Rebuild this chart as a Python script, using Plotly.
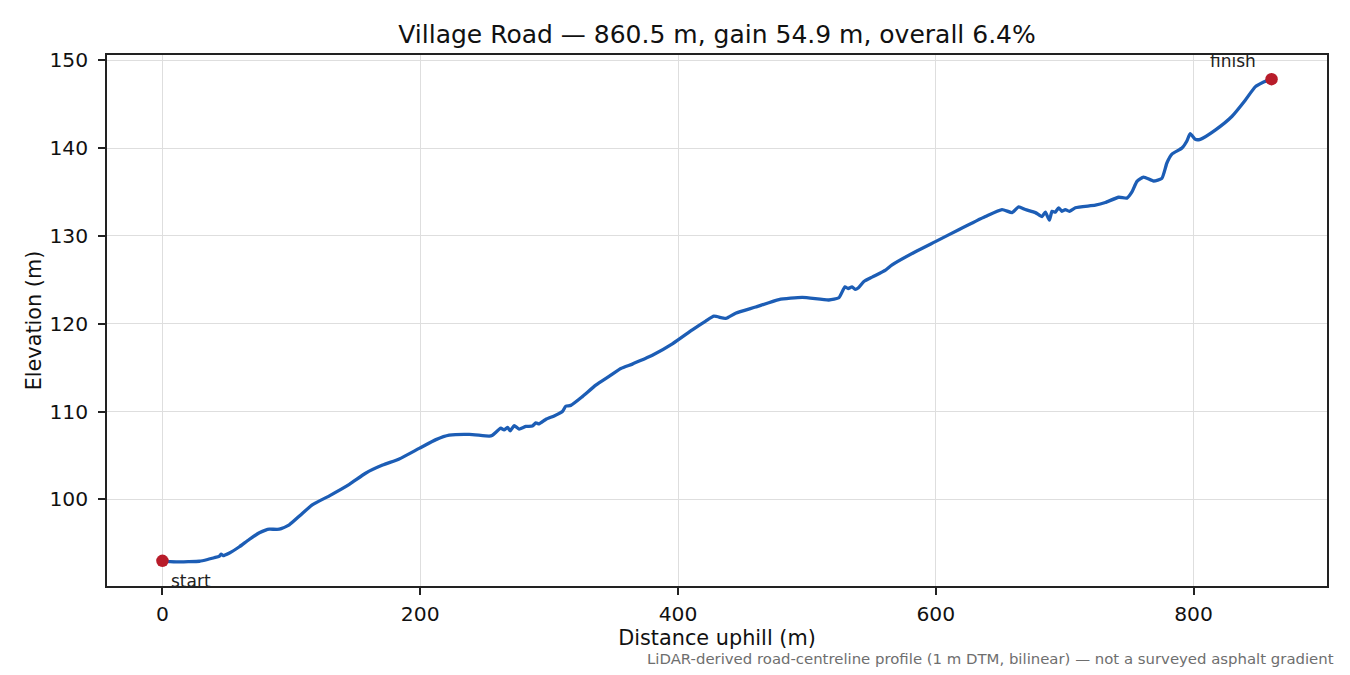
import plotly.graph_objects as go

# Profile (distance uphill in m, elevation in m)
dist = [0, 6, 13, 20, 28.7, 35, 40, 44, 45.5, 47, 52, 59.7, 67, 75.2, 80, 83, 90.7, 98.4,
        107, 116.5, 129.5, 145, 157.9, 170.8, 183.7, 199.2, 212.2, 222.5, 238, 253.5, 256,
        262.5, 265, 267.7, 269.8, 272.9, 276.7, 282, 287, 289.7, 292.2, 297.4, 303.9, 310.3,
        312.9, 316.8, 325.8, 336.2, 346.5, 355.6, 364.6, 372.4, 380.1, 395.6, 411.1, 421.5,
        427.9, 437, 444.7, 460.2, 478.3, 496.4, 517, 524.8, 529.5, 532, 535, 537.5, 540,
        544.2, 550.6, 561, 566.1, 584.2, 599.7, 617.8, 638.5, 651.4, 659.2, 664.3, 669.5,
        677.3, 682.4, 685, 688.1, 690.2, 692.8, 695.3, 697.9, 700.5, 703.6, 708.3, 723.8,
        731.5, 741.9, 748.3, 752.2, 756.1, 761.2, 769, 775.4, 779.3, 783.2, 791, 794.8,
        797.4, 801.3, 805.2, 816.8, 829.7, 840.1, 847.8, 854, 860.5]
elev = [93.0, 92.9, 92.88, 92.9, 92.95, 93.15, 93.35, 93.5, 93.75, 93.6, 93.9, 94.6, 95.4,
        96.2, 96.5, 96.6, 96.6, 97.1, 98.2, 99.4, 100.4, 101.7, 103.0, 103.9, 104.6, 105.8,
        106.8, 107.3, 107.4, 107.2, 107.3, 108.1, 107.9, 108.2, 107.8, 108.4, 108.0, 108.3,
        108.35, 108.7, 108.6, 109.1, 109.5, 110.0, 110.6, 110.7, 111.7, 113.0, 114.0, 114.9,
        115.4, 115.9, 116.4, 117.7, 119.3, 120.3, 120.85, 120.6, 121.2, 121.9, 122.75, 123.0,
        122.7, 122.95, 124.2, 124.0, 124.2, 123.9, 124.1, 124.8, 125.3, 126.1, 126.7, 128.2,
        129.35, 130.7, 132.2, 133.0, 132.65, 133.3, 133.0, 132.65, 132.2, 132.7, 131.8, 132.8,
        132.7, 133.2, 132.8, 133.0, 132.8, 133.2, 133.5, 133.8, 134.4, 134.3, 135.0, 136.2,
        136.7, 136.25, 136.55, 138.3, 139.3, 140.0, 140.8, 141.65, 141.0, 141.0, 142.05,
        143.6, 145.45, 146.97, 147.5, 147.85]

end_labels = ["start", "finish"]
x_ticks = [0, 200, 400, 600, 800]
y_ticks = [100, 110, 120, 130, 140, 150]

title_text = "Village Road — 860.5 m, gain 54.9 m, overall 6.4%"
x_title = "Distance uphill (m)"
y_title = "Elevation (m)"
footnote = "LiDAR-derived road-centreline profile (1 m DTM, bilinear) — not a surveyed asphalt gradient"

FONT = "DejaVu Sans"
LINE = "#1c5db5"
DOT = "#b81c2a"

# page body has an 8 px margin, so the figure is 16 px smaller than the window
W, H = 1334, 659
ML, MT, MR, MB = 99, 47, 15, 81

fig = go.Figure()
fig.add_trace(go.Scatter(x=dist, y=elev, mode="lines",
                         line=dict(color=LINE, width=3.3, shape="spline", smoothing=0.5),
                         hoverinfo="skip", showlegend=False))
fig.add_trace(go.Scatter(x=[dist[0], dist[-1]], y=[elev[0], elev[-1]], mode="markers",
                         marker=dict(color=DOT, size=12.5), showlegend=False))

# end labels
fig.add_annotation(x=dist[0], y=elev[0], text=end_labels[0], showarrow=False,
                   xanchor="left", yanchor="middle", xshift=7, yshift=-20,
                   font=dict(family=FONT, size=17, color="#222"))
fig.add_annotation(x=dist[-1], y=elev[-1], text=end_labels[1], showarrow=False,
                   xanchor="center", yanchor="middle", xshift=-39, yshift=18,
                   font=dict(family=FONT, size=17, color="#222"))

# footnote
plot_w = W - ML - MR
plot_h = H - MT - MB
fig.add_annotation(xref="paper", yref="paper", x=(1328 - ML) / plot_w, y=-(650.5 - (H - MB)) / plot_h,
                   text=footnote, showarrow=False, xanchor="right", yanchor="middle",
                   font=dict(family=FONT, size=14.9, color="#6e6e6e"))

lo, hi = min(elev), max(elev)
pad_y = (hi - lo) * 0.05
pad_x = (dist[-1] - dist[0]) * 0.05

axis_common = dict(showline=True, linecolor="#222", linewidth=1.6, mirror=True,
                   ticks="outside", ticklen=7, tickwidth=1.6, tickcolor="#222",
                   showgrid=True, gridcolor="#dedede", gridwidth=1.4, zeroline=False,
                   tickfont=dict(family=FONT, size=20.3, color="#111"))

fig.update_layout(
    width=W, height=H,
    margin=dict(l=ML, r=MR, t=MT, b=MB),
    paper_bgcolor="white", plot_bgcolor="white",
    title=dict(text=title_text, x=0.5, xref="paper", y=1 - 26 / H, yref="container",
               yanchor="middle", xanchor="center",
               font=dict(family=FONT, size=25, color="#111")),
    xaxis=dict(range=[dist[0] - pad_x, dist[-1] + pad_x], tickvals=x_ticks,
               ticklabelstandoff=2,
               title=dict(text=x_title, standoff=2, font=dict(family=FONT, size=20.8, color="#111")),
               **axis_common),
    yaxis=dict(range=[lo - pad_y, hi + pad_y], tickvals=y_ticks,
               ticklabelstandoff=6,
               title=dict(text=y_title, standoff=2, font=dict(family=FONT, size=20.8, color="#111")),
               **axis_common),
)

fig.write_html("out.html")
